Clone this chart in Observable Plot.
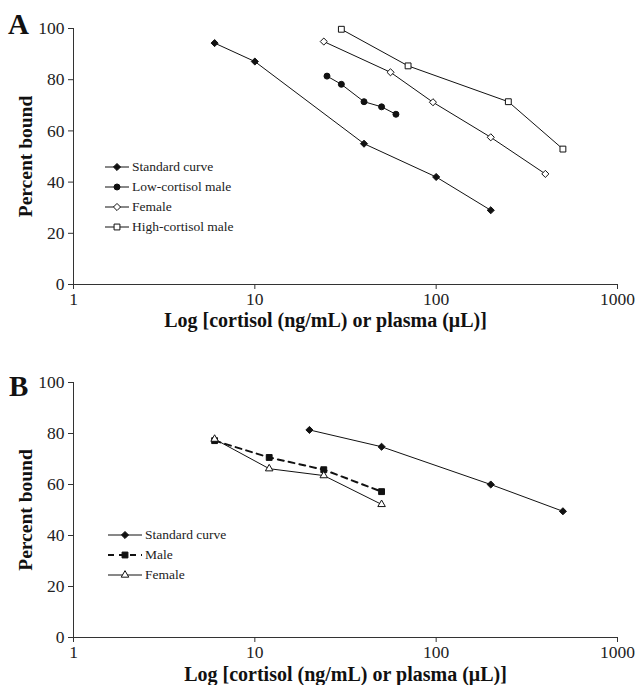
<!DOCTYPE html>
<html><head><meta charset="utf-8">
<script src="https://cdn.jsdelivr.net/npm/d3@7"></script>
<script src="https://cdn.jsdelivr.net/npm/@observablehq/plot@0.6"></script>
<style>
body{margin:0;background:#fff;font-family:"Liberation Serif","Times New Roman",Times,serif;}
.panel{position:relative;width:637px;}
.panel svg text{font-family:"Liberation Serif","Times New Roman",Times,serif;}
.letter{position:absolute;font-weight:bold;font-size:29px;line-height:1;color:#111;}
.legend{position:absolute;font-size:13.5px;color:#222;}
.legend .row{display:flex;align-items:center;height:20px;}
.legend svg{overflow:visible;margin-right:3px;}
</style></head><body>
<div id="A" class="panel"></div>
<div id="B" class="panel"></div>
<script>
const xTicks = [1, 10, 100, 1000];
const yTicks = [0, 20, 40, 60, 80, 100];
const xTitle = "Log [cortisol (ng/mL) or plasma (\u03BCL)]";
const yTitle = "Percent bound";

// Panel A
const aNames = ["Standard curve", "Low-cortisol male", "Female", "High-cortisol male"];
const aStdX = [6, 10, 40, 100, 200],  aStdY = [94.3, 87.1, 55, 42, 29];
const aLowX = [25, 30, 40, 50, 60],   aLowY = [81.4, 78.2, 71.4, 69.4, 66.5];
const aFemX = [24, 56, 96, 200, 400], aFemY = [94.9, 82.9, 71.2, 57.5, 43.2];
const aHighX = [30, 70, 250, 500],    aHighY = [99.7, 85.4, 71.4, 52.9];

// Panel B
const bNames = ["Standard curve", "Male", "Female"];
const bStdX = [20, 50, 200, 500],  bStdY = [81.4, 74.8, 60, 49.5];
const bMaleX = [6, 12, 24, 50],    bMaleY = [77.2, 70.6, 65.8, 57.2];
const bFemX = [6, 12, 24, 50],     bFemY = [77.8, 66.2, 63.5, 52.2];

const rows = (xs, ys) => xs.map((x, i) => ({x, y: ys[i]}));

const seriesA = [
  {name: aNames[0], data: rows(aStdX, aStdY), symbol: "diamond2", fill: "#111", r: 3.2},
  {name: aNames[1], data: rows(aLowX, aLowY), symbol: "circle", fill: "#111", r: 3},
  {name: aNames[2], data: rows(aFemX, aFemY), symbol: "diamond2", fill: "#fff", r: 3.2},
  {name: aNames[3], data: rows(aHighX, aHighY), symbol: "square", fill: "#fff", r: 3.3}
];
const seriesB = [
  {name: bNames[0], data: rows(bStdX, bStdY), symbol: "diamond2", fill: "#111", r: 3.2},
  {name: bNames[1], data: rows(bMaleX, bMaleY), symbol: "square", fill: "#111", r: 3.3, dash: "6,5", sw: 2},
  {name: bNames[2], data: rows(bFemX, bFemY), symbol: "triangle", fill: "#fff", r: 2.8}
];

const symMap = {diamond2: d3.symbolDiamond2, circle: d3.symbolCircle, square: d3.symbolSquare, triangle: d3.symbolTriangle};
const FONT = "'Liberation Serif','Times New Roman',Times,serif";

function panel(el, letter, series, opts) {
  const marks = [
    Plot.ruleX([1], {stroke: "#333"}),
    Plot.ruleY([0], {stroke: "#333"}),
    Plot.axisX({ticks: xTicks, tickFormat: d => String(d), tickSize: 5, tickPadding: 3, label: null, fontSize: 17.5, stroke: "#333"}),
    Plot.axisY({ticks: yTicks, tickSize: 5, tickPadding: 4, label: null, fontSize: 17.5, stroke: "#333"}),
    Plot.text([xTitle], {frameAnchor: "bottom", dy: opts.xTitleDy, dx: opts.xTitleDx, lineAnchor: "middle", textAnchor: "middle", fontWeight: "bold", fontSize: 20, fill: "#111"}),
    Plot.text([yTitle], {frameAnchor: "left", dx: -48, rotate: -90, textAnchor: "middle", lineAnchor: "middle", fontWeight: "bold", fontSize: 19.5, fill: "#111"})
  ];
  for (const s of series) {
    marks.push(Plot.line(s.data, {x: "x", y: "y", stroke: "#111", strokeWidth: s.sw || 1, strokeDasharray: s.dash}));
  }
  for (const s of series) {
    marks.push(Plot.dot(s.data, {x: "x", y: "y", symbol: () => s.symbol, r: s.r, fill: s.fill, stroke: "#111", strokeWidth: 1}));
  }
  const chart = Plot.plot({
    width: 637, height: opts.height,
    marginLeft: 73, marginRight: 20, marginTop: opts.mt, marginBottom: opts.mb,
    style: {fontFamily: FONT, fontSize: "17px", color: "#222", background: "#fff"},
    x: {type: "log", domain: [1, 1000]},
    y: {domain: [0, 100]},
    symbol: {type: "identity"},
    marks
  });
  el.appendChild(chart);
  const L = document.createElement("div");
  L.className = "letter"; L.textContent = letter;
  L.style.left = opts.letterX + "px"; L.style.top = opts.letterY + "px";
  el.appendChild(L);
  const leg = document.createElement("div");
  leg.className = "legend";
  leg.style.left = opts.legX + "px"; leg.style.top = opts.legY + "px";
  for (const s of series) {
    const row = document.createElement("div"); row.className = "row";
    const w = opts.legW;
    const sz = Math.PI * s.r * s.r;
    const path = d3.symbol(symMap[s.symbol], sz)();
    row.innerHTML = `<svg width="${w}" height="20"><line x1="0" x2="${w}" y1="10" y2="10" stroke="#111" stroke-width="${s.sw || 1}" ${s.dash ? `stroke-dasharray="${s.dash}"` : ""}/><path d="${path}" transform="translate(${w/2},10)" fill="${s.fill}" stroke="#111"/></svg><span>${s.name}</span>`;
    leg.appendChild(row);
  }
  el.appendChild(leg);
}

panel(document.getElementById("A"), "A", seriesA, {height: 340, mt: 28, mb: 56, xTitleDy: 36, xTitleDx: -20, letterX: 8, letterY: 10, legX: 105, legY: 157, legW: 24});
panel(document.getElementById("B"), "B", seriesB, {height: 345, mt: 42, mb: 48, xTitleDy: 37, xTitleDx: 0, letterX: 9, letterY: 32, legX: 108, legY: 185, legW: 34});
</script>
</body></html>
